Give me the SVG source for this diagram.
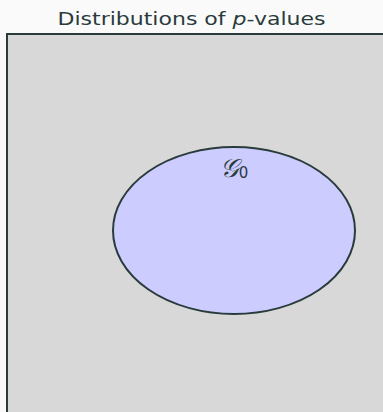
<svg xmlns="http://www.w3.org/2000/svg" width="383" height="412" viewBox="0 0 383 412">
<style>
.t{font-family:"DejaVu Sans","Liberation Sans",sans-serif;fill:#2a3b3c}
.frame{fill:#d8d8d8;stroke:#2a3b3c;stroke-width:2}
.set{fill:#ccccff;stroke:#2a3b3c;stroke-width:2}
</style>
<rect width="383" height="412" fill="#fafafa"/>
<text class="t" x="191.5" y="25" font-size="18.5" text-anchor="middle" textLength="268" lengthAdjust="spacingAndGlyphs">Distributions of <tspan font-style="italic">p</tspan>-values</text>
<g id="frame"><rect class="frame" x="7" y="34" width="390" height="400"/></g>
<g id="connectors"></g>
<g id="G0">
<ellipse class="set" cx="234" cy="230.5" rx="121" ry="83.5"/>
<text class="t" x="234" y="177" font-size="20" text-anchor="middle"><tspan font-family="'DejaVu Serif',serif" font-style="italic" font-size="26">𝒢</tspan><tspan font-size="15" dy="1">0</tspan></text>
</g>
</svg>
